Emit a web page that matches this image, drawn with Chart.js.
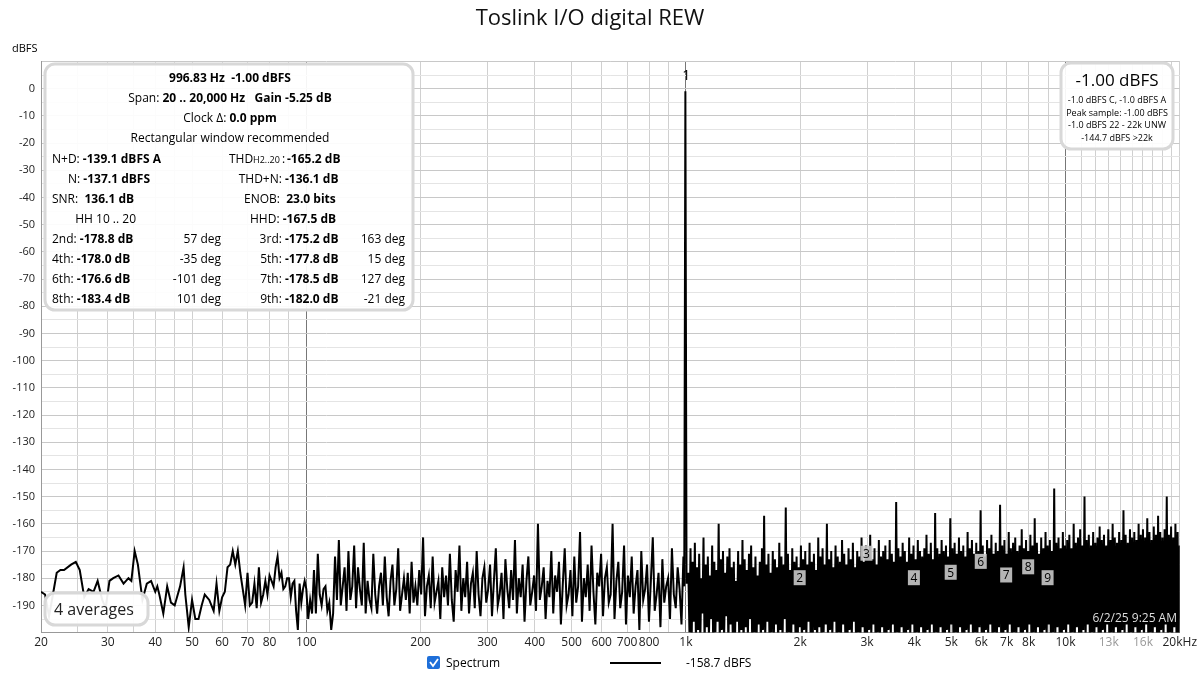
<!DOCTYPE html>
<html><head><meta charset="utf-8">
<script src="https://cdn.jsdelivr.net/npm/chart.js@4"></script>
<style>html,body{margin:0;background:#fff;}#w{position:relative;width:1200px;height:675px;}</style>
</head><body><div id="w"><canvas id="c" width="1200" height="675"></canvas></div>
<script>
const title = "Toslink I/O digital REW";
const xTickLabels = {20:"20",30:"30",40:"40",50:"50",60:"60",70:"70",80:"80",100:"100",200:"200",300:"300",400:"400",500:"500",600:"600",700:"700",800:"800",1000:"1k",2000:"2k",3000:"3k",4000:"4k",5000:"5k",6000:"6k",7000:"7k",8000:"8k",10000:"10k",13000:"13k",16000:"16k",20000:"20kHz"};
const gridFreqs = [20,25,30,35,40,45,50,60,70,80,90,100,200,300,400,500,600,700,800,900,1000,2000,3000,4000,5000,6000,7000,8000,9000,10000,11000,12000,13000,14000,15000,16000,17000,18000,19000,20000];
// low band: explicit frequency / level pairs
const lowFreq = [20,20.5,21,21.5,22,22.5,23,24,24.7,25.3,26,26.7,27.5,28.2,29,29.6,30.3,31,32,33,34,34.6,35.3,36,37,38,39,40,40.5,41,42,43,44,45,46.5,47.5,48,49,50,51,52,53,54,55.5,57,58,59,60,61,62,63,64,65,66,67,68,69,70,71,72,73,74,75,76,77,78,79,80,81,82,83,84,85,86,87,88,89,90,91,92,93,94,95,96,97,98,99];
const lowVal = [-185,-186,-194,-186,-178,-177,-177,-175,-174,-177,-187,-184,-185,-181,-188,-191,-181,-180,-179,-182,-180,-181,-170,-175,-188,-182,-181,-185,-183,-186,-193,-183,-189,-190,-183,-176,-186,-198,-188,-195,-195,-190,-186,-188,-192,-182,-192,-187,-185,-176,-175,-170,-175,-170,-178,-184,-190,-178,-190,-189,-182,-191,-176,-189,-186,-181,-186,-179,-181,-183,-176,-172,-180,-178,-184,-183,-180,-180,-187,-182,-181,-192,-199,-182,-189,-184,-181,-183,-183];
// mid band 100 .. 985 Hz (evenly spaced on log axis)
const midVal = [-184,-195,-188,-193,-177,-193,-171,-186,-190,-184,-183,-192,-189,-199,-193,-172,-188,-166,-190,-183,-176,-192,-170,-188,-183,-168,-191,-176,-184,-190,-167,-193,-181,-188,-191,-171,-186,-193,-183,-178,-190,-172,-187,-194,-181,-175,-190,-184,-169,-192,-186,-180,-188,-178,-193,-174,-189,-183,-190,-177,-186,-165,-194,-183,-179,-191,-172,-189,-185,-181,-195,-176,-187,-179,-190,-171,-188,-196,-177,-185,-168,-192,-180,-187,-174,-193,-182,-178,-191,-170,-186,-194,-180,-176,-189,-184,-175,-194,-181,-169,-190,-186,-178,-195,-173,-184,-191,-177,-188,-166,-193,-180,-187,-175,-196,-181,-172,-190,-185,-179,-192,-160,-188,-183,-176,-195,-181,-187,-170,-193,-179,-185,-174,-197,-182,-169,-190,-186,-177,-194,-172,-189,-183,-163,-196,-180,-187,-175,-192,-168,-185,-197,-178,-183,-171,-194,-180,-176,-189,-186,-160,-195,-181,-174,-191,-185,-168,-197,-179,-187,-172,-193,-183,-177,-199,-170,-188,-184,-175,-196,-181,-165,-192,-186,-178,-198,-173,-189,-183,-180,-195,-169,-186,-191,-176,-184,-197,-172];
// high band 1015 .. 20000 Hz (evenly spaced on log axis), dense noise floor
const highVal = [-178,-200,-169,-205,-174,-196,-167,-203,-176,-199,-171,-204,-180,-193,-165,-206,-175,-198,-172,-202,-179,-195,-168,-207,-174,-200,-177,-196,-160,-204,-173,-199,-170,-203,-178,-194,-172,-206,-169,-197,-176,-201,-174,-205,-181,-196,-170,-203,-175,-199,-166,-207,-173,-198,-177,-202,-171,-195,-168,-205,-176,-200,-172,-204,-179,-197,-174,-206,-169,-199,-157,-203,-175,-196,-171,-205,-178,-200,-170,-202,-173,-197,-176,-206,-167,-199,-172,-204,-175,-195,-154,-203,-171,-200,-177,-205,-169,-197,-174,-202,-172,-206,-176,-198,-168,-204,-173,-199,-170,-203,-175,-196,-167,-205,-174,-201,-171,-199,-177,-206,-165,-198,-172,-204,-169,-200,-175,-197,-160,-205,-173,-199,-170,-203,-176,-196,-168,-206,-172,-200,-174,-204,-166,-197,-171,-202,-175,-205,-169,-199,-173,-203,-167,-196,-176,-206,-170,-200,-172,-204,-165,-198,-174,-202,-168,-205,-171,-199,-164,-203,-173,-197,-169,-206,-175,-200,-166,-204,-172,-198,-170,-202,-168,-205,-173,-199,-166,-203,-171,-197,-174,-206,-152,-200,-169,-204,-172,-198,-167,-202,-170,-205,-174,-199,-165,-203,-171,-197,-168,-206,-173,-200,-166,-204,-170,-198,-172,-202,-169,-205,-164,-199,-171,-203,-167,-197,-173,-206,-156,-200,-169,-204,-171,-198,-166,-202,-170,-205,-168,-199,-172,-203,-158,-197,-169,-206,-167,-200,-171,-204,-165,-198,-170,-202,-168,-205,-172,-199,-163,-203,-169,-197,-166,-206,-171,-200,-167,-204,-170,-198,-155,-202,-168,-205,-172,-199,-166,-203,-169,-197,-164,-206,-171,-200,-167,-204,-170,-198,-153,-202,-168,-205,-166,-199,-171,-203,-163,-197,-169,-206,-167,-200,-165,-204,-170,-198,-168,-202,-162,-205,-169,-199,-166,-203,-170,-197,-164,-206,-168,-200,-158,-204,-167,-198,-171,-202,-165,-205,-169,-199,-163,-203,-168,-197,-166,-206,-170,-200,-147,-204,-167,-198,-165,-202,-169,-205,-163,-199,-168,-203,-166,-197,-164,-206,-169,-200,-160,-204,-167,-198,-165,-202,-162,-205,-168,-199,-150,-203,-166,-197,-164,-206,-168,-200,-163,-204,-167,-198,-165,-202,-161,-205,-166,-199,-164,-203,-168,-197,-162,-206,-166,-200,-160,-204,-165,-198,-167,-202,-163,-205,-166,-199,-155,-203,-164,-197,-167,-206,-162,-200,-165,-204,-163,-198,-166,-202,-160,-205,-164,-199,-162,-203,-165,-197,-158,-206,-163,-200,-166,-204,-161,-198,-164,-202,-157,-205,-163,-199,-165,-203,-162,-197,-150,-206,-164,-200,-161,-204,-165,-198,-160,-202,-163,-205,-168];
const fundFreq = 996.83, fundLevel = -1.0;
const harmonics = [[2,1994,-180],[3,2990,-171],[4,3987,-180],[5,4984,-178],[6,5981,-174],[7,6978,-179],[8,7975,-176],[9,8971,-180]];
const yTicks = [0,-10,-20,-30,-40,-50,-60,-70,-80,-90,-100,-110,-120,-130,-140,-150,-160,-170,-180,-190];

const pts = [];
lowFreq.forEach((f,i)=>pts.push({x:f,y:lowVal[i]}));
function band(vals,f0,f1){const a=Math.log(f0),b=Math.log(f1);vals.forEach((v,i)=>pts.push({x:Math.exp(a+(b-a)*i/(vals.length-1)),y:v}));}
band(midVal,100,985);
pts.push({x:990,y:-183},{x:fundFreq,y:fundLevel},{x:1004,y:-182});
band(highVal,1015,20000);

const overlay = {
  id:'overlay',
  afterDraw(ch){
    const c=ch.ctx, xs=ch.scales.x, ys=ch.scales.y;
    c.save();
    c.font='14px "Open Sans"';c.fillStyle='#000';c.textAlign='center';
    c.fillText('1',xs.getPixelForValue(fundFreq)+1,80);
    c.font='12px "Open Sans"';
    harmonics.forEach(h=>{const x=xs.getPixelForValue(h[1]),y=ys.getPixelForValue(h[2]);
      c.fillStyle='rgba(200,200,200,0.9)';c.fillRect(x-6,y-8,12,15);c.fillStyle='#000';c.fillText(String(h[0]),x,y+4);});
    function rbox(x,y,w,h,r){c.beginPath();c.roundRect(x,y,w,h,r);c.fillStyle='rgba(255,255,255,0.93)';c.fill();c.lineWidth=3;c.strokeStyle='#d8d8d8';c.stroke();}
    rbox(45,64,368,246,10);
    c.fillStyle='#000';c.textAlign='center';
    const B='bold 12px "Open Sans"',N='12px "Open Sans"';
    function mix(parts,cx,y,align){let w=0;parts.forEach(p=>{c.font=p[1]?B:N;w+=c.measureText(p[0]).width;});
      let x= align==='center'?cx-w/2:(align==='right'?cx-w:cx);c.textAlign='left';
      parts.forEach(p=>{c.font=p[1]?B:N;c.fillText(p[0],x,y);x+=c.measureText(p[0]).width;});}
    mix([['996.83 Hz  -1.00 dBFS',1]],230,82,'center');
    mix([['Span: ',0],['20 .. 20,000 Hz   Gain -5.25 dB',1]],230,102,'center');
    mix([['Clock Δ: ',0],['0.0 ppm',1]],230,122,'center');
    mix([['Rectangular window recommended',0]],230,142,'center');
    const rows=[
      [[['N+D: ',0],['-139.1 dBFS A',1]],null,[['THD',0]],null],
      [[['N: ',0],['-137.1 dBFS',1]],null,[['THD+N: ',0],['-136.1 dB',1]],null],
      [[['SNR:  ',0],['136.1 dB',1]],null,[['ENOB:  ',0],['23.0 bits',1]],null],
      [[['HH 10 .. 20',0]],null,[['HHD: ',0],['-167.5 dB',1]],null],
      [[['2nd: ',0],['-178.8 dB',1]],'57 deg',[['3rd: ',0],['-175.2 dB',1]],'163 deg'],
      [[['4th: ',0],['-178.0 dB',1]],'-35 deg',[['5th: ',0],['-177.8 dB',1]],'15 deg'],
      [[['6th: ',0],['-176.6 dB',1]],'-101 deg',[['7th: ',0],['-178.5 dB',1]],'127 deg'],
      [[['8th: ',0],['-183.4 dB',1]],'101 deg',[['9th: ',0],['-182.0 dB',1]],'-21 deg']];
    rows.forEach((r,i)=>{const y=163+i*20;
      if(i===3){mix(r[0],136,y,'right');}
      else if(i<3){mix(r[0],(i===1?68:52),y,'left');}
      else{mix(r[0],52,y,'left');}
      if(r[1]){c.font=N;c.textAlign='right';c.fillText(r[1],221,y);}
      if(i===0){c.font=N;c.textAlign='left';c.fillText('THD',229,y);c.font='9px "Open Sans"';c.fillText('H2..20',253,y);c.font=N;c.fillText(': ',282,y);c.font=B;c.fillText('-165.2 dB',287,y);}
      else{
        const lbl=r[2][0][0];c.font=N;const w=c.measureText(lbl).width;
        mix(r[2],(i===2?244:(i===3?250:285-w)),y,'left');
      }
      if(r[3]){c.font=N;c.textAlign='right';c.fillText(r[3],405,y);}
    });
    rbox(1061,63,112,86,10);
    c.fillStyle='#000';c.textAlign='center';c.font='17px "Open Sans"';c.fillText('-1.00 dBFS',1117,86);
    c.font='9px "Open Sans"';
    ['-1.0 dBFS C, -1.0 dBFS A','Peak sample: -1.00 dBFS','-1.0 dBFS 22 - 22k UNW','-144.7 dBFS >22k'].forEach((t,i)=>c.fillText(t,1117,103+i*12.5));
    rbox(45,593,103,32,10);
    c.fillStyle='#222';c.textAlign='left';c.font='16px "Open Sans"';c.fillText('4 averages',54,615);
    c.font='12px "Open Sans"';c.textAlign='right';c.lineWidth=3;c.strokeStyle='#000';c.strokeText('6/2/25 9:25 AM',1177,622);c.fillStyle='#ddd';c.fillText('6/2/25 9:25 AM',1177,622);
    c.fillStyle='#000';c.textAlign='left';c.font='11px "Open Sans"';c.fillText('dBFS',12,52);
    c.fillStyle='#1e6fd9';c.beginPath();c.roundRect(427,656,13,13,2);c.fill();
    c.strokeStyle='#fff';c.lineWidth=1.8;c.beginPath();c.moveTo(430,662);c.lineTo(433,666);c.lineTo(438,659);c.stroke();
    c.fillStyle='#000';c.font='12px "Open Sans"';c.fillText('Spectrum',446,667);
    c.strokeStyle='#000';c.lineWidth=2;c.beginPath();c.moveTo(610,663);c.lineTo(661,663);c.stroke();
    c.fillText('-158.7 dBFS',686,667);
    c.restore();
  }
};

new Chart(document.getElementById('c'),{
  type:'line',
  data:{datasets:[{data:pts,borderColor:'#000',borderWidth:2,pointRadius:0,tension:0,clip:true}]},
  options:{responsive:false,animation:false,
    layout:{padding:{left:0,right:20,top:0,bottom:22}},
    plugins:{legend:{display:false},tooltip:{enabled:false},
      title:{display:true,text:title,font:{family:'"Open Sans"',size:22,weight:'normal'},color:'#111',padding:{top:6,bottom:29}}},
    scales:{
      x:{type:'logarithmic',min:20,max:20000,
        afterBuildTicks(s){s.ticks=gridFreqs.map(v=>({value:v}));},
        ticks:{autoSkip:false,maxRotation:0,font:{family:'"Open Sans"',size:12},
          color:(ctx)=>([13000,16000].includes(ctx.tick.value)?'#999':'#222'),
          callback:(v)=>xTickLabels[v]||''},
        grid:{color:(ctx)=>([100,1000,10000].includes(ctx.tick.value)?'#777':'#d0d0d0'),drawTicks:false},
        border:{color:'#999'}},
      y:{min:-200,max:10,
        afterBuildTicks(s){const t=[];for(let v=10;v>=-200;v-=5)t.push({value:v});s.ticks=t;},
        ticks:{autoSkip:false,font:{family:'"Open Sans"',size:11},color:'#222',padding:6,
          callback:(v)=>yTicks.includes(v)?String(v):''},
        afterFit(s){s.width=41;},
        grid:{color:(ctx)=>(ctx.tick.value%10===0?'#c8c8c8':'#e4e4e4'),drawTicks:false},
        border:{color:'#999'}}
    }},
  plugins:[overlay]
});
</script></body></html>
